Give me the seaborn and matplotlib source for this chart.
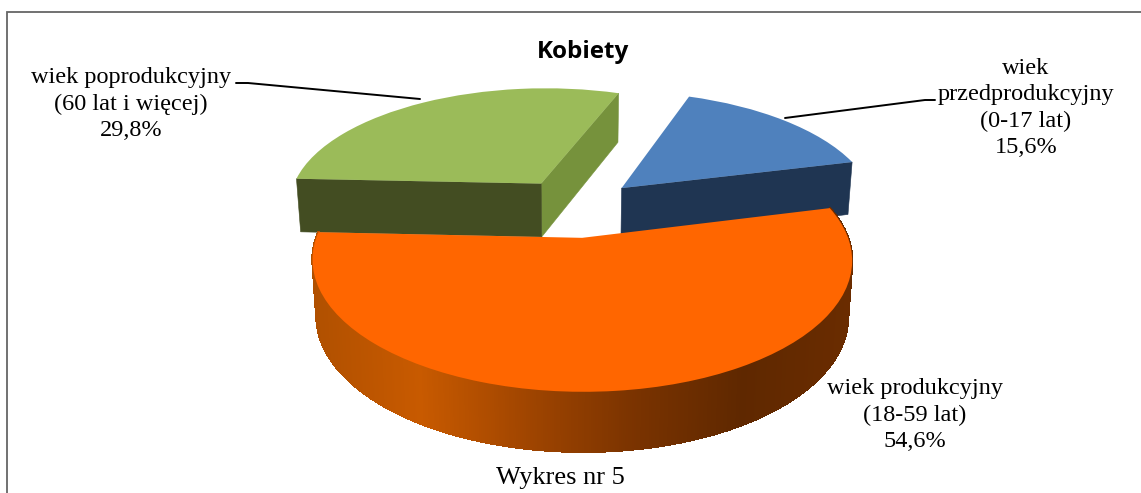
import numpy as np
import matplotlib
matplotlib.use("Agg")
import matplotlib.pyplot as plt
from matplotlib.transforms import Transform
from matplotlib.collections import PolyCollection
from matplotlib.patches import Polygon
from matplotlib.colors import LinearSegmentedColormap
import seaborn as sns

# data
categories = ["wiek\nprzedprodukcyjny\n(0-17 lat)", "wiek poprodukcyjny\n(60 lat i więcej)", "wiek produkcyjny\n(18-59 lat)"]
shares = [15.6, 29.8, 54.6]
pct_labels = ["15,6%", "29,8%", "54,6%"]
title = "Kobiety"
caption = "Wykres nr 5"

top_colors = ["#4F81BD", "#9BBB59", "#FF6600"]
dark_colors = ["#1F3552", "#434D22", "#C85A00"]
side_green = "#76923C"
wall_stops = ["#6A2C00", "#5F2800", "#7A3300", "#A04500", "#C85A00", "#B05000"]

sns.set_theme(style="white")
W, H = 1141, 493
fig = plt.figure(figsize=(W / 100, H / 100), dpi=100, facecolor="white")
ax = fig.add_axes([0, 0, 1, 1])

# projection of the pie plane to pixel coordinates
CX, AY, RX, SY, KP, E = 575.5, 238.0, 266.0, 128.0, 0.169, 0.25


def project(xy):
    xy = np.asarray(xy, dtype=float)
    yl = xy[:, 1] + E
    w = 1 + KP * yl
    return np.column_stack([CX + RX * xy[:, 0] / w, AY - SY * yl / w])


def lower(xy):
    """Bottom outline of the slab under plane points."""
    xy = np.asarray(xy, dtype=float)
    p = project(xy)
    w = 1 + KP * (xy[:, 1] + E)
    d = 60 - 27 * (w - 0.83)
    return np.column_stack([CX + (p[:, 0] - CX) * 0.985, p[:, 1] + d])


class Persp(Transform):
    input_dims = 2
    output_dims = 2
    is_separable = False
    has_inverse = False

    def transform_non_affine(self, values):
        return project(values)


wedges, _ = ax.pie(shares, startangle=14, explode=[E] * 3, colors=top_colors,
                   wedgeprops=dict(linewidth=0))
ax.set_aspect("auto")
ax.set(xlim=(0, W), ylim=(H, 0), xticks=[], yticks=[])
ax.set_frame_on(False)
persp = Persp() + ax.transData
for i, wd in enumerate(wedges):
    wd.set_transform(persp)
    wd.set_zorder(3 if i < 2 else 7)
    wd.set_clip_on(False)


def rim(wd, deg):
    t = np.radians(deg)
    return np.array([wd.center[0] + wd.r * np.cos(t), wd.center[1] + wd.r * np.sin(t)])


def radial_face(wd, deg, color, z):
    pts = np.array([wd.center, rim(wd, deg)])
    poly = np.vstack([project(pts), lower(pts)[::-1]])
    ax.add_patch(Polygon(poly, closed=True, fc=color, ec=color, lw=0.4, zorder=z))


# slab walls of the two rear slices
radial_face(wedges[0], wedges[0].theta1, dark_colors[0], 2)
radial_face(wedges[1], wedges[1].theta1, side_green, 2)
radial_face(wedges[1], wedges[1].theta2, dark_colors[1], 2.5)

# curved wall of the big slice
wo = wedges[2]
th = np.linspace(wo.theta1, wo.theta2, 500)
arc = np.array([rim(wo, d) for d in th])
up, dn = project(arc), lower(arc)
quads = [np.array([up[i], up[i + 1], dn[i + 1], dn[i]]) for i in range(len(th) - 1)]
cmap = LinearSegmentedColormap.from_list("wall", wall_stops, N=1024)
xmid = np.array([q[:, 0].mean() for q in quads])
xnorm = (xmid.max() - xmid) / (xmid.max() - xmid.min())
pc = PolyCollection(quads, array=xnorm, cmap=cmap, edgecolors="face", linewidths=1.0,
                    antialiased=False, zorder=6)
ax.add_collection(pc)

# frame
ax.plot([7, 7, W], [H, 12, 12], color="#666666", lw=1.3, zorder=1, solid_joinstyle="miter")

# leader lines
ax.plot([236, 248, 420], [83, 83, 99], color="black", lw=1.4, zorder=8)
ax.plot([785, 925, 935], [118, 100, 100], color="black", lw=1.4, zorder=8)

serif = dict(family="Liberation Serif", fontsize=17.5, color="black", ha="center", va="center",
             linespacing=1.33, zorder=9)
ax.text(1026, 108, categories[0] + "\n" + pct_labels[0], **serif)
ax.text(131, 104, categories[1] + "\n" + pct_labels[1], **serif)
ax.text(915, 415, categories[2] + "\n" + pct_labels[2], **serif)
ax.text(560, 478, caption, **{**serif, "fontsize": 19})
ax.text(583, 52, title, family="Open Sans", fontsize=17.5, fontweight="bold", color="black",
        ha="center", va="center", zorder=9)

fig.savefig("out.png", dpi=100, facecolor="white")
